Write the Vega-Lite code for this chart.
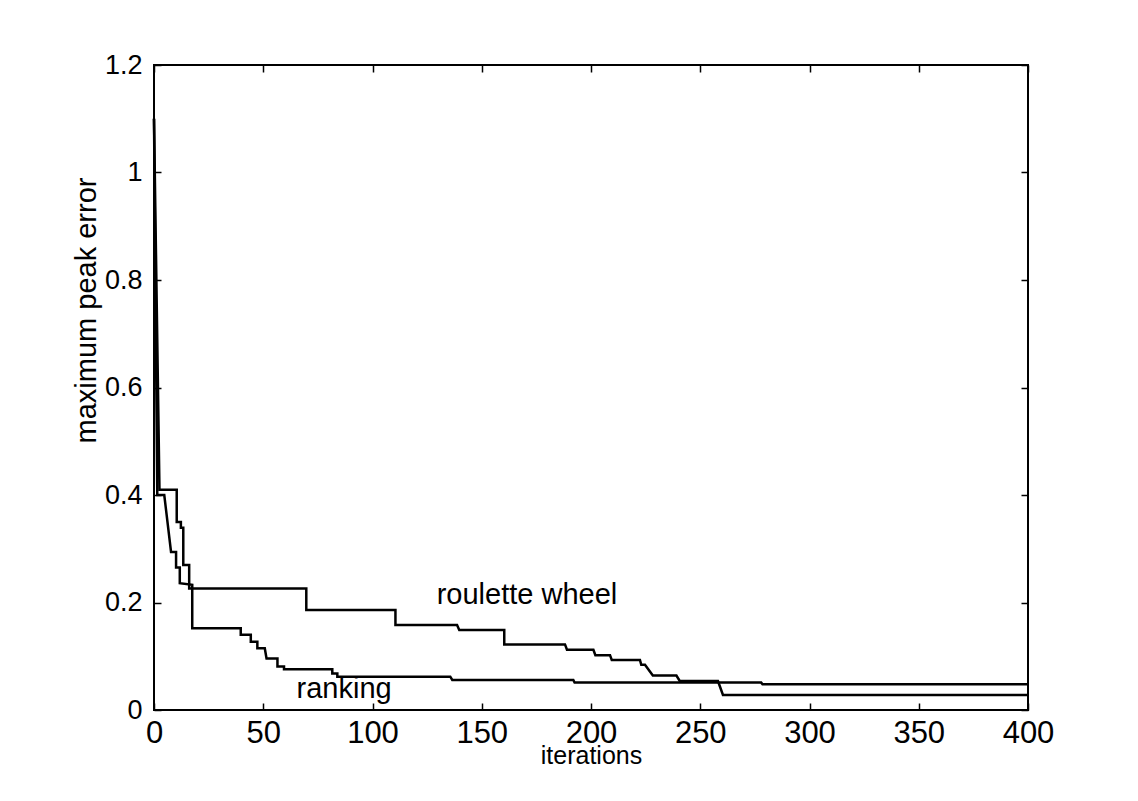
{
  "$schema": "https://vega.github.io/schema/vega-lite/v6.json",
  "width": 874,
  "height": 645,
  "autosize": {"type": "none"},
  "padding": {"left": 154, "top": 65, "right": 110, "bottom": 91},
  "background": "white",
  "config": {
    "font": "Liberation Sans",
    "view": {"stroke": "black", "strokeWidth": 2},
    "axis": {
      "domain": false,
      "grid": false,
      "ticks": true,
      "tickSize": -7,
      "tickColor": "black",
      "tickWidth": 1.5,
      "labelColor": "black",
      "titleColor": "black",
      "titleFontWeight": "normal"
    }
  },
  "datasets": {
    "curves": [
      {"series": "roulette wheel", "step": 1, "iteration": 0, "error": 1.1},
      {"series": "roulette wheel", "step": 2, "iteration": 2.5, "error": 0.41},
      {"series": "roulette wheel", "step": 3, "iteration": 10.4, "error": 0.41},
      {"series": "roulette wheel", "step": 4, "iteration": 10.4, "error": 0.35},
      {"series": "roulette wheel", "step": 5, "iteration": 12.3, "error": 0.35},
      {"series": "roulette wheel", "step": 6, "iteration": 12.3, "error": 0.339},
      {"series": "roulette wheel", "step": 7, "iteration": 13.4, "error": 0.339},
      {"series": "roulette wheel", "step": 8, "iteration": 13.4, "error": 0.27},
      {"series": "roulette wheel", "step": 9, "iteration": 16.1, "error": 0.27},
      {"series": "roulette wheel", "step": 10, "iteration": 16.1, "error": 0.226},
      {"series": "roulette wheel", "step": 11, "iteration": 69.7, "error": 0.226},
      {"series": "roulette wheel", "step": 12, "iteration": 69.7, "error": 0.186},
      {"series": "roulette wheel", "step": 13, "iteration": 110.5, "error": 0.186},
      {"series": "roulette wheel", "step": 14, "iteration": 110.5, "error": 0.158},
      {"series": "roulette wheel", "step": 15, "iteration": 138.7, "error": 0.158},
      {"series": "roulette wheel", "step": 16, "iteration": 139.7, "error": 0.149},
      {"series": "roulette wheel", "step": 17, "iteration": 160.3, "error": 0.149},
      {"series": "roulette wheel", "step": 18, "iteration": 160.3, "error": 0.122},
      {"series": "roulette wheel", "step": 19, "iteration": 188.1, "error": 0.122},
      {"series": "roulette wheel", "step": 20, "iteration": 189, "error": 0.112},
      {"series": "roulette wheel", "step": 21, "iteration": 201.1, "error": 0.112},
      {"series": "roulette wheel", "step": 22, "iteration": 202, "error": 0.102},
      {"series": "roulette wheel", "step": 23, "iteration": 208.7, "error": 0.102},
      {"series": "roulette wheel", "step": 24, "iteration": 209.5, "error": 0.093},
      {"series": "roulette wheel", "step": 25, "iteration": 222.4, "error": 0.093},
      {"series": "roulette wheel", "step": 26, "iteration": 223, "error": 0.084},
      {"series": "roulette wheel", "step": 27, "iteration": 224.7, "error": 0.084},
      {"series": "roulette wheel", "step": 28, "iteration": 228.3, "error": 0.064},
      {"series": "roulette wheel", "step": 29, "iteration": 239.1, "error": 0.064},
      {"series": "roulette wheel", "step": 30, "iteration": 240.6, "error": 0.054},
      {"series": "roulette wheel", "step": 31, "iteration": 258.1, "error": 0.054},
      {"series": "roulette wheel", "step": 32, "iteration": 260.4, "error": 0.028},
      {"series": "roulette wheel", "step": 33, "iteration": 400, "error": 0.028},
      {"series": "ranking", "step": 1, "iteration": 0, "error": 1.1},
      {"series": "ranking", "step": 2, "iteration": 1.5, "error": 0.4},
      {"series": "ranking", "step": 3, "iteration": 4.7, "error": 0.4},
      {"series": "ranking", "step": 4, "iteration": 7.8, "error": 0.294},
      {"series": "ranking", "step": 5, "iteration": 10.1, "error": 0.294},
      {"series": "ranking", "step": 6, "iteration": 10.1, "error": 0.265},
      {"series": "ranking", "step": 7, "iteration": 11.8, "error": 0.265},
      {"series": "ranking", "step": 8, "iteration": 11.8, "error": 0.236},
      {"series": "ranking", "step": 9, "iteration": 17.5, "error": 0.233},
      {"series": "ranking", "step": 10, "iteration": 17.5, "error": 0.152},
      {"series": "ranking", "step": 11, "iteration": 39.7, "error": 0.152},
      {"series": "ranking", "step": 12, "iteration": 39.7, "error": 0.14},
      {"series": "ranking", "step": 13, "iteration": 44.3, "error": 0.14},
      {"series": "ranking", "step": 14, "iteration": 44.3, "error": 0.127},
      {"series": "ranking", "step": 15, "iteration": 47.3, "error": 0.127},
      {"series": "ranking", "step": 16, "iteration": 47.3, "error": 0.115},
      {"series": "ranking", "step": 17, "iteration": 50.7, "error": 0.115},
      {"series": "ranking", "step": 18, "iteration": 51.5, "error": 0.096},
      {"series": "ranking", "step": 19, "iteration": 56.5, "error": 0.096},
      {"series": "ranking", "step": 20, "iteration": 56.5, "error": 0.081},
      {"series": "ranking", "step": 21, "iteration": 59.5, "error": 0.081},
      {"series": "ranking", "step": 22, "iteration": 59.5, "error": 0.076},
      {"series": "ranking", "step": 23, "iteration": 81.6, "error": 0.076},
      {"series": "ranking", "step": 24, "iteration": 81.6, "error": 0.068},
      {"series": "ranking", "step": 25, "iteration": 83.9, "error": 0.068},
      {"series": "ranking", "step": 26, "iteration": 83.9, "error": 0.062},
      {"series": "ranking", "step": 27, "iteration": 135.6, "error": 0.062},
      {"series": "ranking", "step": 28, "iteration": 136.5, "error": 0.056},
      {"series": "ranking", "step": 29, "iteration": 191.9, "error": 0.056},
      {"series": "ranking", "step": 30, "iteration": 192.5, "error": 0.051},
      {"series": "ranking", "step": 31, "iteration": 277.9, "error": 0.051},
      {"series": "ranking", "step": 32, "iteration": 278.5, "error": 0.048},
      {"series": "ranking", "step": 33, "iteration": 400, "error": 0.048}
    ],
    "notes": [
      {"label": "roulette wheel", "iteration": 170.7, "error": 0.214},
      {"label": "ranking", "iteration": 87, "error": 0.04}
    ]
  },
  "layer": [
    {
      "data": {"name": "curves"},
      "mark": {"type": "line", "color": "black", "strokeWidth": 2.5, "interpolate": "linear"},
      "encoding": {
        "x": {
          "field": "iteration", "type": "quantitative",
          "scale": {"domain": [0, 400], "nice": false, "zero": false},
          "axis": {
            "orient": "bottom",
            "values": [0, 50, 100, 150, 200, 250, 300, 350, 400],
            "labelFontSize": 31, "labelPadding": 15, "labelFlush": false,
            "title": "iterations", "titleFontSize": 25, "titlePadding": -5
          }
        },
        "y": {
          "field": "error", "type": "quantitative",
          "scale": {"domain": [0, 1.2], "nice": false},
          "axis": {
            "orient": "left",
            "values": [0, 0.2, 0.4, 0.6, 0.8, 1, 1.2], "format": "~g",
            "labelFontSize": 27, "labelPadding": 19, "labelFlush": false,
            "title": "maximum peak error", "titleFontSize": 29,
            "titleBaseline": "alphabetic", "titleX": -59, "titleY": 245
          }
        },
        "detail": {"field": "series"},
        "order": {"field": "step", "type": "quantitative"}
      }
    },
    {
      "data": {"name": "curves"},
      "mark": {"type": "line", "opacity": 0},
      "encoding": {
        "x": {
          "field": "iteration", "type": "quantitative",
          "scale": {"domain": [0, 400], "nice": false, "zero": false},
          "axis": {"orient": "top", "values": [0, 50, 100, 150, 200, 250, 300, 350, 400], "labels": false, "title": null}
        },
        "y": {
          "field": "error", "type": "quantitative",
          "scale": {"domain": [0, 1.2], "nice": false},
          "axis": {"orient": "right", "values": [0, 0.2, 0.4, 0.6, 0.8, 1, 1.2], "labels": false, "title": null}
        },
        "detail": {"field": "series"},
        "order": {"field": "step", "type": "quantitative"}
      }
    },
    {
      "data": {"name": "notes"},
      "mark": {"type": "text", "color": "black", "fontSize": 29, "align": "center", "baseline": "middle"},
      "encoding": {
        "x": {"field": "iteration", "type": "quantitative", "axis": null},
        "y": {"field": "error", "type": "quantitative", "axis": null},
        "text": {"field": "label"}
      }
    }
  ],
  "resolve": {"axis": {"x": "independent", "y": "independent"}}
}
